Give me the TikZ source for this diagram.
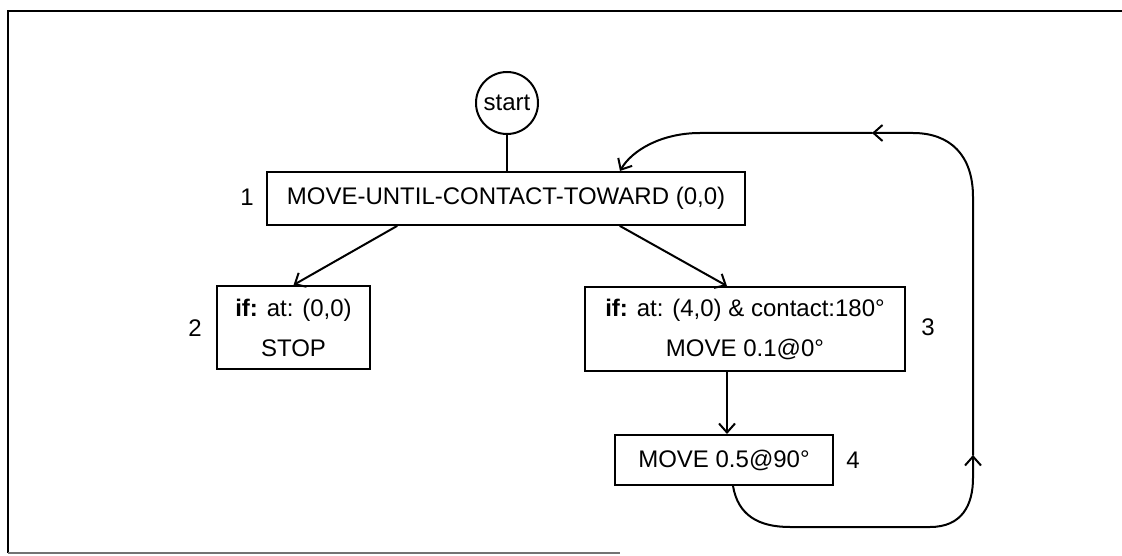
\documentclass[tikz,border=0pt]{standalone}
\usepackage{fontspec}
\setmainfont{Liberation Sans}
\usetikzlibrary{arrows.meta}
\tikzset{
  ln/.style={line width=2pt, line cap=round, line join=round},
  arr/.style={ln, -{Straight Barb[length=9pt,width=16pt,line width=2pt]}},
  box/.style={draw, line width=2pt, inner sep=0pt, align=center,
    font=\fontsize{24}{40}\selectfont},
  lbl/.style={font=\fontsize{24}{28}\selectfont, inner sep=0pt},
  startc/.style={draw, circle, line width=2pt, minimum size=62pt, inner sep=0pt,
    font=\fontsize{24}{28}\selectfont}
}
\begin{document}
\begin{tikzpicture}[x=1pt,y=-1pt]
\useasboundingbox (0,0) rectangle (1122,556);
% frame
\draw[line width=1.6pt] (1122,11) -- (8,11) -- (8,553);
\draw[line width=1.2pt, black!55] (8,553) -- (620,553);
% nodes
\node[startc] (st) at (507,103) {start};
\node[box, minimum width=478pt, minimum height=53pt] (b1) at (506,198.5) {MOVE-UNTIL-CONTACT-TOWARD (0,0)};
\node[box, minimum width=153pt, minimum height=83pt] (b2) at (293.5,327.5) {\textbf{if:} at: (0,0)\\STOP};
\node[box, minimum width=320pt, minimum height=84pt] (b3) at (745,329) {\textbf{if:} at: (4,0) \& contact:180°\\MOVE 0.1@0°};
\node[box, minimum width=218pt, minimum height=50pt] (b4) at (724,460) {MOVE 0.5@90°};
% labels
\node[lbl] (l1) at (247,197) {1};
\node[lbl] (l2) at (195,328) {2};
\node[lbl] (l3) at (928,327) {3};
\node[lbl] (l4) at (853,460) {4};
% helper coordinates
\coordinate (x397) at (397,0);
\coordinate (x620) at (620,0);
\coordinate (x727) at (727,0);
\coordinate (x733) at (733,0);
\coordinate (lp1) at (973,455);
\coordinate (lp2) at (872,133);
% connectors
\draw[ln] (st) -- (b1.north -| st);
\draw[arr] (b1.south -| x397) -- (b2.north);
\draw[arr] (b1.south -| x620) -- (b3.north -| x727);
\draw[arr] (b3.south -| x727) -- (b4.north -| x727);
\draw[arr] (b4.south -| x733) .. controls (738,515) and (758,527) .. (790,527)
   -- (930,527) .. controls (962,527) and (973,505) .. (973,478) -- (lp1);
\draw[arr] (lp1) -- (973,197) .. controls (973,155) and (950,133) .. (913,133) -- (lp2);
\draw[arr] (lp2) -- (700,133) .. controls (662,133) and (632,150) .. (b1.north -| x620);
\end{tikzpicture}
\end{document}
